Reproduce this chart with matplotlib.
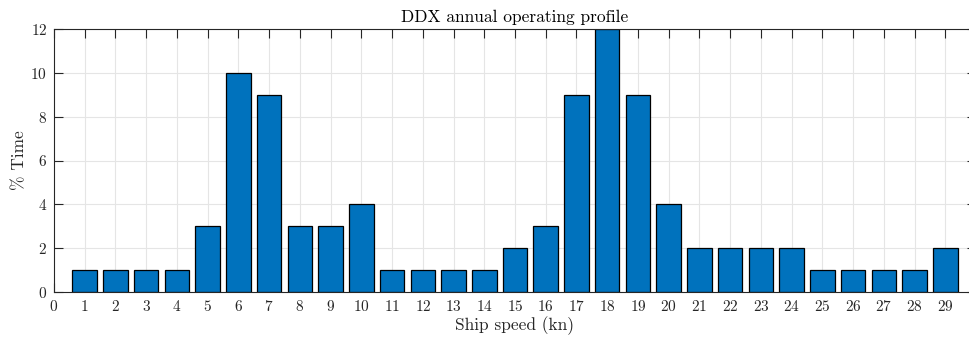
import matplotlib
matplotlib.use("Agg")
import matplotlib.pyplot as plt

# --- Operating profile data ---
speeds = list(range(1, 30))
pct_time = [1, 1, 1, 1, 3, 10, 9, 3, 3, 4,
            1, 1, 1, 1, 2, 3, 9, 12, 9, 4,
            2, 2, 2, 2, 1, 1, 1, 1, 2]
xticks = list(range(0, 30))
yticks = [0, 2, 4, 6, 8, 10, 12]

plt.rcParams["font.family"] = "serif"
plt.rcParams["font.serif"] = ["cmr10"]
plt.rcParams["mathtext.fontset"] = "cm"
plt.rcParams["axes.formatter.use_mathtext"] = True

W, H = 969, 340
fig = plt.figure(figsize=(W / 100, H / 100), dpi=100)
# axes box runs a little past the right edge of the figure
left, right, bottom, top = 54, 976, 291.7, 29.3
ax = fig.add_axes([left / W, (H - bottom) / H, (right - left) / W, (bottom - top) / H])

ax.bar(speeds, pct_time, width=0.8, color="#0072BD", edgecolor="black",
       linewidth=0.9, zorder=2)

ax.set_xlim(0, 30)
ax.set_ylim(0, 12)
ax.set_xticks(xticks)
ax.set_yticks(yticks)

# light grid behind the bars, ticks stay on top
for x in xticks[1:]:
    ax.axvline(x, color="#e5e5e5", linewidth=0.8, zorder=0.5)
for y in yticks[1:]:
    ax.axhline(y, color="#e5e5e5", linewidth=0.8, zorder=0.5)

ax.tick_params(direction="in", top=True, right=True, length=6.5, width=0.8,
               colors="#262626", labelsize=11, pad=5)
for s in ax.spines.values():
    s.set_color("#262626")
    s.set_linewidth(0.8)

ax.set_xlabel("Ship speed (kn)", fontsize=12.5, color="#262626", labelpad=2)
ax.set_ylabel("% Time", fontsize=12.5, color="#262626", labelpad=2)
ax.set_title("DDX annual operating profile", fontsize=12.5, color="black", pad=5)

fig.savefig("out.png", dpi=100)
